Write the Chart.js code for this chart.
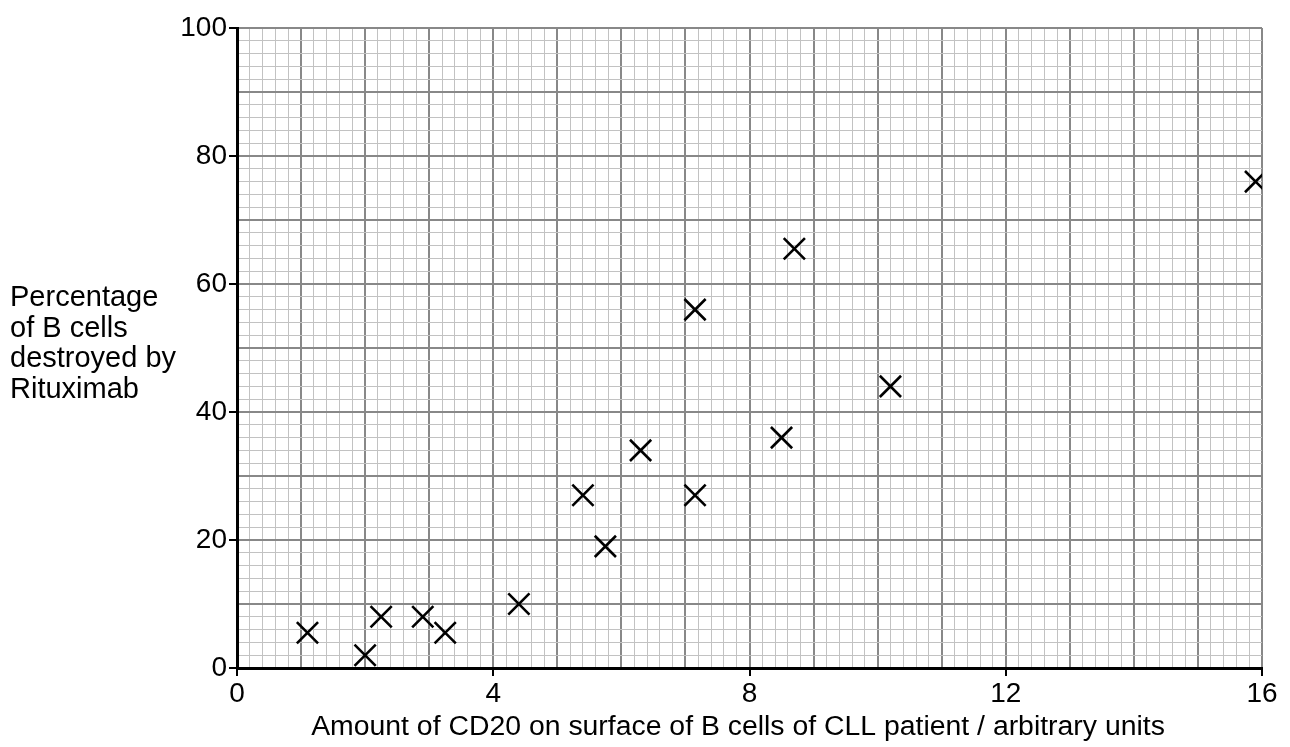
<!DOCTYPE html>
<html>
<head>
<meta charset="utf-8">
<script src="https://cdn.jsdelivr.net/npm/chart.js@4/dist/chart.umd.min.js"></script>
<style>
  html, body { margin: 0; padding: 0; background: #fff; }
  #wrap { width: 1290px; height: 747px; }
</style>
</head>
<body>
<div id="wrap"><canvas id="chart" width="1290" height="747"></canvas></div>
<script>
// CD20 amount vs percentage of B cells destroyed
const cd20 = [1.1, 2.0, 2.25, 2.9, 3.25, 4.4, 5.4, 5.75, 6.3, 7.15, 7.15, 8.5, 8.7, 10.2, 15.9];
const destroyed = [5.5, 2, 8, 8, 5.5, 10, 27, 19, 34, 27, 56, 36, 65.5, 44, 76];

const xTickLabels = [0, 4, 8, 12, 16];
const yTickLabels = [0, 20, 40, 60, 80, 100];

const yTitleLines = ["Percentage", "of B cells", "destroyed by", "Rituximab"];
const xTitle = "Amount of CD20 on surface of B cells of CLL patient / arbitrary units";

const FONT = '"Liberation Sans", Arial, sans-serif';

// helpers for grid levels
const isWhole = (v, step) => Math.abs(v / step - Math.round(v / step)) < 1e-6;

const points = cd20.map((x, i) => ({ x, y: destroyed[i] }));

// draws the two axis titles as plain text
const titlesPlugin = {
  id: "titles",
  afterDraw(chart) {
    const ctx = chart.ctx;
    ctx.save();
    ctx.fillStyle = "#000";
    ctx.font = "29px " + FONT;
    ctx.textAlign = "left";
    ctx.textBaseline = "alphabetic";
    yTitleLines.forEach((line, i) => {
      ctx.fillText(line, 10, 306 + i * 30.7);
    });
    ctx.font = "28.4px " + FONT;
    ctx.textAlign = "center";
    ctx.fillText(xTitle, 738, 735);
    ctx.restore();
  },
};

const ctx = document.getElementById("chart").getContext("2d");
new Chart(ctx, {
  type: "scatter",
  data: {
    datasets: [
      {
        data: points,
        pointStyle: "crossRot",
        pointRadius: 15,
        pointHoverRadius: 15,
        borderColor: "#000",
        backgroundColor: "#000",
        pointBorderWidth: 2.6,
      },
    ],
  },
  options: {
    responsive: false,
    animation: false,
    layout: { padding: { left: 0, right: 28, top: 28, bottom: 0 } },
    plugins: {
      legend: { display: false },
      tooltip: { enabled: false },
    },
    scales: {
      x: {
        type: "linear",
        min: 0,
        max: 16,
        afterFit: (scale) => { scale.height = 79; },
        ticks: {
          stepSize: 0.2,
          autoSkip: false,
          maxRotation: 0,
          padding: 1,
          color: "#000",
          font: { family: FONT, size: 28 },
          callback: (v) => {
            const r = Math.round(v);
            return isWhole(v, 1) && xTickLabels.includes(r) ? String(r) : "";
          },
        },
        grid: {
          color: (c) => (isWhole(c.tick.value, 1) ? "#888888" : "#c2c2c2"),
          lineWidth: (c) => (isWhole(c.tick.value, 1) ? 2 : 1),
          tickLength: 8,
          tickColor: (c) => (isWhole(c.tick.value, 4) ? "#000" : "rgba(0,0,0,0)"),
          tickWidth: 2,
        },
        border: { display: true, color: "#000", width: 3 },
      },
      y: {
        type: "linear",
        min: 0,
        max: 100,
        afterFit: (scale) => { scale.width = 237; },
        ticks: {
          stepSize: 2,
          autoSkip: false,
          padding: 2,
          color: "#000",
          font: { family: FONT, size: 28 },
          callback: (v) => {
            const r = Math.round(v);
            return isWhole(v, 10) && yTickLabels.includes(r) ? String(r) : "";
          },
        },
        grid: {
          color: (c) => (isWhole(c.tick.value, 10) ? "#888888" : "#c2c2c2"),
          lineWidth: (c) => (isWhole(c.tick.value, 10) ? 2 : 1),
          tickLength: 8,
          tickColor: (c) => (isWhole(c.tick.value, 20) ? "#000" : "rgba(0,0,0,0)"),
          tickWidth: 2,
        },
        border: { display: true, color: "#000", width: 3 },
      },
    },
  },
  plugins: [titlesPlugin],
});
</script>
</body>
</html>
